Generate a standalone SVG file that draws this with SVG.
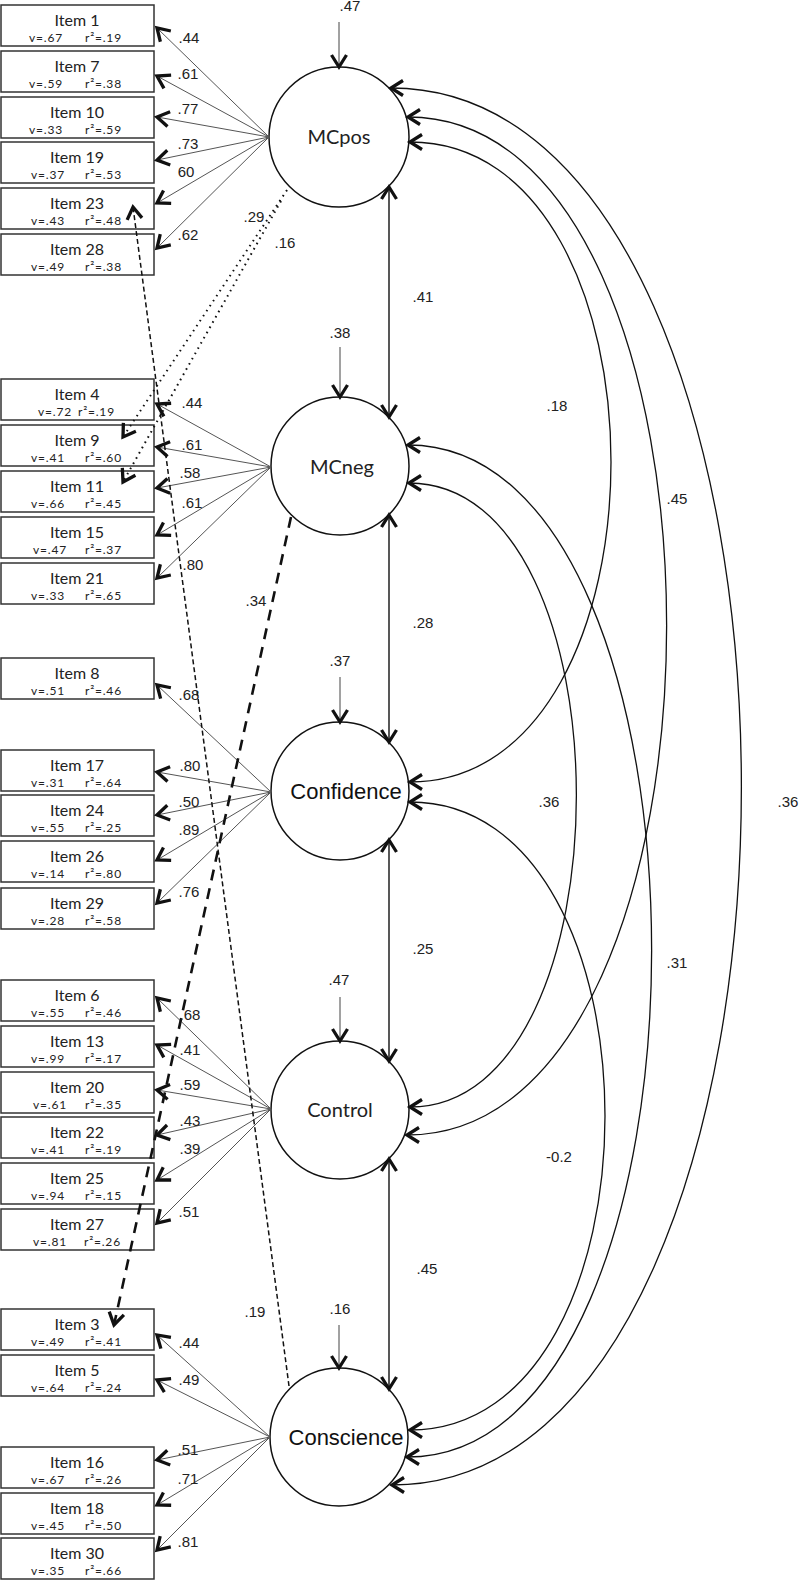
<svg xmlns="http://www.w3.org/2000/svg" width="800" height="1581" viewBox="0 0 800 1581">
<style>
.box rect{fill:#fff;stroke:#333;stroke-width:1.5}
.t1{font-family:Lato,"Liberation Sans",sans-serif;font-size:16px;text-anchor:middle;fill:#222}
.t2{font-family:Lato,"Liberation Sans",sans-serif;font-size:12px;letter-spacing:0.8px;fill:#222}
.lat circle{fill:#fff;stroke:#111;stroke-width:1.5}
.lc{font-family:Lato,"Liberation Sans",sans-serif;font-size:20px;text-anchor:middle;fill:#222}
.la{font-family:"Liberation Sans",Arial,sans-serif;font-size:22px;text-anchor:middle;fill:#111}
.num{font-family:"Liberation Sans",Arial,sans-serif;font-size:15px;text-anchor:middle;fill:#222}
.load{stroke:#555;stroke-width:1;fill:none;marker-end:url(#arr)}
.err{stroke:#444;stroke-width:1;fill:none;marker-end:url(#arr)}
.dbl{stroke:#111;stroke-width:1.4;fill:none;marker-start:url(#arr);marker-end:url(#arr)}
.cov{stroke:#111;stroke-width:1.3;fill:none;marker-start:url(#arr);marker-end:url(#arr)}
.dot{stroke:#111;stroke-width:2;fill:none;stroke-dasharray:1.6 4.4;marker-end:url(#arr)}
.dsh{stroke:#111;stroke-width:1.5;fill:none;stroke-dasharray:5 3;marker-end:url(#arr)}
.bds{stroke:#111;stroke-width:2.6;fill:none;stroke-dasharray:11 8;marker-end:url(#arr)}
</style>
<defs>
<marker id="arr" markerUnits="userSpaceOnUse" viewBox="0 0 20 20" markerWidth="20" markerHeight="20" refX="16" refY="10" orient="auto-start-reverse">
<path d="M4,2.5 L16,10 L4,17.5" fill="none" stroke="#111" stroke-width="3.3" stroke-dasharray="none"/>
</marker>
</defs>

<!-- Items group 1 -->
<g id="item1" class="box"><rect x="1" y="5" width="153" height="41"/><text class="t1" x="77" y="26">Item 1</text><text class="t2" x="29" y="42">v=.67</text><text class="t2" x="85" y="42">r²=.19</text></g>
<g id="item7" class="box"><rect x="1" y="51" width="153" height="41"/><text class="t1" x="77" y="72">Item 7</text><text class="t2" x="29" y="88">v=.59</text><text class="t2" x="85" y="88">r²=.38</text></g>
<g id="item10" class="box"><rect x="1" y="97" width="153" height="41"/><text class="t1" x="77" y="118">Item 10</text><text class="t2" x="29" y="134">v=.33</text><text class="t2" x="85" y="134">r²=.59</text></g>
<g id="item19" class="box"><rect x="1" y="142" width="153" height="41"/><text class="t1" x="77" y="163">Item 19</text><text class="t2" x="31" y="179">v=.37</text><text class="t2" x="85" y="179">r²=.53</text></g>
<g id="item23" class="box"><rect x="1" y="188" width="153" height="41"/><text class="t1" x="77" y="209">Item 23</text><text class="t2" x="31" y="225">v=.43</text><text class="t2" x="85" y="225">r²=.48</text></g>
<g id="item28" class="box"><rect x="1" y="234" width="153" height="41"/><text class="t1" x="77" y="255">Item 28</text><text class="t2" x="31" y="271">v=.49</text><text class="t2" x="85" y="271">r²=.38</text></g>

<!-- Items group 2 -->
<g id="item4" class="box"><rect x="1" y="379" width="153" height="41"/><text class="t1" x="77" y="400">Item 4</text><text class="t2" x="38" y="416">v=.72</text><text class="t2" x="78" y="416">r²=.19</text></g>
<g id="item9" class="box"><rect x="1" y="425" width="153" height="41"/><text class="t1" x="77" y="446">Item 9</text><text class="t2" x="31" y="462">v=.41</text><text class="t2" x="85" y="462">r²=.60</text></g>
<g id="item11" class="box"><rect x="1" y="471" width="153" height="41"/><text class="t1" x="77" y="492">Item 11</text><text class="t2" x="31" y="508">v=.66</text><text class="t2" x="85" y="508">r²=.45</text></g>
<g id="item15" class="box"><rect x="1" y="517" width="153" height="41"/><text class="t1" x="77" y="538">Item 15</text><text class="t2" x="33" y="554">v=.47</text><text class="t2" x="85" y="554">r²=.37</text></g>
<g id="item21" class="box"><rect x="1" y="563" width="153" height="41"/><text class="t1" x="77" y="584">Item 21</text><text class="t2" x="31" y="600">v=.33</text><text class="t2" x="85" y="600">r²=.65</text></g>

<!-- Items group 3 -->
<g id="item8" class="box"><rect x="1" y="658" width="153" height="41"/><text class="t1" x="77" y="679">Item 8</text><text class="t2" x="31" y="695">v=.51</text><text class="t2" x="85" y="695">r²=.46</text></g>
<g id="item17" class="box"><rect x="1" y="750" width="153" height="41"/><text class="t1" x="77" y="771">Item 17</text><text class="t2" x="31" y="787">v=.31</text><text class="t2" x="85" y="787">r²=.64</text></g>
<g id="item24" class="box"><rect x="1" y="795" width="153" height="41"/><text class="t1" x="77" y="816">Item 24</text><text class="t2" x="31" y="832">v=.55</text><text class="t2" x="85" y="832">r²=.25</text></g>
<g id="item26" class="box"><rect x="1" y="841" width="153" height="41"/><text class="t1" x="77" y="862">Item 26</text><text class="t2" x="31" y="878">v=.14</text><text class="t2" x="85" y="878">r²=.80</text></g>
<g id="item29" class="box"><rect x="1" y="888" width="153" height="41"/><text class="t1" x="77" y="909">Item 29</text><text class="t2" x="31" y="925">v=.28</text><text class="t2" x="85" y="925">r²=.58</text></g>

<!-- Items group 4 -->
<g id="item6" class="box"><rect x="1" y="980" width="153" height="41"/><text class="t1" x="77" y="1001">Item 6</text><text class="t2" x="31" y="1017">v=.55</text><text class="t2" x="85" y="1017">r²=.46</text></g>
<g id="item13" class="box"><rect x="1" y="1026" width="153" height="41"/><text class="t1" x="77" y="1047">Item 13</text><text class="t2" x="31" y="1063">v=.99</text><text class="t2" x="85" y="1063">r²=.17</text></g>
<g id="item20" class="box"><rect x="1" y="1072" width="153" height="41"/><text class="t1" x="77" y="1093">Item 20</text><text class="t2" x="33" y="1109">v=.61</text><text class="t2" x="85" y="1109">r²=.35</text></g>
<g id="item22" class="box"><rect x="1" y="1117" width="153" height="41"/><text class="t1" x="77" y="1138">Item 22</text><text class="t2" x="31" y="1154">v=.41</text><text class="t2" x="85" y="1154">r²=.19</text></g>
<g id="item25" class="box"><rect x="1" y="1163" width="153" height="41"/><text class="t1" x="77" y="1184">Item 25</text><text class="t2" x="31" y="1200">v=.94</text><text class="t2" x="85" y="1200">r²=.15</text></g>
<g id="item27" class="box"><rect x="1" y="1209" width="153" height="41"/><text class="t1" x="77" y="1230">Item 27</text><text class="t2" x="33" y="1246">v=.81</text><text class="t2" x="84" y="1246">r²=.26</text></g>

<!-- Items group 5 -->
<g id="item3" class="box"><rect x="1" y="1309" width="153" height="41"/><text class="t1" x="77" y="1330">Item 3</text><text class="t2" x="31" y="1346">v=.49</text><text class="t2" x="85" y="1346">r²=.41</text></g>
<g id="item5" class="box"><rect x="1" y="1355" width="153" height="41"/><text class="t1" x="77" y="1376">Item 5</text><text class="t2" x="31" y="1392">v=.64</text><text class="t2" x="85" y="1392">r²=.24</text></g>
<g id="item16" class="box"><rect x="1" y="1447" width="153" height="41"/><text class="t1" x="77" y="1468">Item 16</text><text class="t2" x="31" y="1484">v=.67</text><text class="t2" x="85" y="1484">r²=.26</text></g>
<g id="item18" class="box"><rect x="1" y="1493" width="153" height="41"/><text class="t1" x="77" y="1514">Item 18</text><text class="t2" x="31" y="1530">v=.45</text><text class="t2" x="85" y="1530">r²=.50</text></g>
<g id="item30" class="box"><rect x="1" y="1538" width="153" height="41"/><text class="t1" x="77" y="1559">Item 30</text><text class="t2" x="31" y="1575">v=.35</text><text class="t2" x="85" y="1575">r²=.66</text></g>

<!-- Latent variables -->
<g id="MCpos" class="lat"><circle cx="339" cy="137" r="70"/><text class="lc" x="339" y="144">MCpos</text></g>
<g id="MCneg" class="lat"><circle cx="340" cy="466" r="69"/><text class="lc" x="342" y="474">MCneg</text></g>
<g id="Confidence" class="lat"><circle cx="340" cy="791" r="69"/><text class="la" x="346" y="799">Confidence</text></g>
<g id="Control" class="lat"><circle cx="340" cy="1110" r="69"/><text class="lc" x="340" y="1117">Control</text></g>
<g id="Conscience" class="lat"><circle cx="339" cy="1437" r="69"/><text class="la" x="346" y="1445">Conscience</text></g>

<g id="connectors">
<!-- loadings MCpos -->
<line class="load" x1="269" y1="137" x2="157" y2="28"/>
<line class="load" x1="269" y1="137" x2="157" y2="76"/>
<line class="load" x1="269" y1="137" x2="157" y2="117"/>
<line class="load" x1="269" y1="137" x2="157" y2="160"/>
<line class="load" x1="269" y1="137" x2="157" y2="203"/>
<line class="load" x1="269" y1="137" x2="157" y2="248"/>
<!-- loadings MCneg -->
<line class="load" x1="271" y1="467" x2="157" y2="404"/>
<line class="load" x1="271" y1="467" x2="157" y2="447"/>
<line class="load" x1="271" y1="467" x2="157" y2="488"/>
<line class="load" x1="271" y1="467" x2="157" y2="535"/>
<line class="load" x1="271" y1="467" x2="157" y2="578"/>
<!-- loadings Confidence -->
<line class="load" x1="271" y1="792" x2="157" y2="685"/>
<line class="load" x1="271" y1="792" x2="157" y2="772"/>
<line class="load" x1="271" y1="792" x2="157" y2="815"/>
<line class="load" x1="271" y1="792" x2="157" y2="860"/>
<line class="load" x1="271" y1="792" x2="157" y2="903"/>
<!-- loadings Control -->
<line class="load" x1="271" y1="1109" x2="157" y2="998"/>
<line class="load" x1="271" y1="1109" x2="157" y2="1045"/>
<line class="load" x1="271" y1="1109" x2="157" y2="1090"/>
<line class="load" x1="271" y1="1109" x2="157" y2="1135"/>
<line class="load" x1="271" y1="1109" x2="157" y2="1180"/>
<line class="load" x1="271" y1="1109" x2="157" y2="1223"/>
<!-- loadings Conscience -->
<line class="load" x1="270" y1="1437" x2="157" y2="1335"/>
<line class="load" x1="270" y1="1437" x2="157" y2="1380"/>
<line class="load" x1="270" y1="1437" x2="157" y2="1460"/>
<line class="load" x1="270" y1="1437" x2="157" y2="1505"/>
<line class="load" x1="270" y1="1437" x2="157" y2="1550"/>

<!-- error terms -->
<line class="err" x1="339" y1="22" x2="339" y2="67"/>
<line class="err" x1="340" y1="347" x2="340" y2="397"/>
<line class="err" x1="340" y1="677" x2="340" y2="722"/>
<line class="err" x1="340" y1="997" x2="340" y2="1041"/>
<line class="err" x1="339" y1="1325" x2="339" y2="1368"/>

<!-- vertical correlations -->
<line class="dbl" x1="389" y1="187" x2="389" y2="417"/>
<line class="dbl" x1="389" y1="515" x2="389" y2="742"/>
<line class="dbl" x1="389" y1="840" x2="389" y2="1061"/>
<line class="dbl" x1="389" y1="1159" x2="389" y2="1389"/>

<!-- curved covariances -->
<path class="cov" d="M391,88 C858,88 858,1485 392,1485"/>
<path class="cov" d="M408,117 C753,117 753,1135 407,1135"/>
<path class="cov" d="M410,142 C678,142 678,782 410,782"/>
<path class="cov" d="M408,445 C733,445 733,1457 407,1457"/>
<path class="cov" d="M409,483 C632,483 632,1107 410,1107"/>
<path class="cov" d="M410,802 C670,802 670,1430 410,1430"/>

<!-- cross loadings -->
<line class="dot" x1="287" y1="190" x2="123" y2="437"/>
<line class="dot" x1="281" y1="201" x2="123" y2="482"/>
<line class="dsh" x1="289" y1="1386" x2="133" y2="207"/>
<line class="bds" x1="291" y1="517" x2="114" y2="1325"/>
</g>

<g id="labels">
<text class="num" x="189" y="43">.44</text>
<text class="num" x="188" y="79">.61</text>
<text class="num" x="188" y="114">.77</text>
<text class="num" x="188" y="149">.73</text>
<text class="num" x="186" y="177">60</text>
<text class="num" x="188" y="240">.62</text>
<text class="num" x="192" y="408">.44</text>
<text class="num" x="192" y="450">.61</text>
<text class="num" x="190" y="478">.58</text>
<text class="num" x="192" y="508">.61</text>
<text class="num" x="193" y="570">.80</text>
<text class="num" x="189" y="700">.68</text>
<text class="num" x="190" y="771">.80</text>
<text class="num" x="189" y="807">.50</text>
<text class="num" x="189" y="835">.89</text>
<text class="num" x="189" y="897">.76</text>
<text class="num" x="190" y="1020">.68</text>
<text class="num" x="190" y="1055">.41</text>
<text class="num" x="190" y="1090">.59</text>
<text class="num" x="190" y="1126">.43</text>
<text class="num" x="190" y="1154">.39</text>
<text class="num" x="189" y="1217">.51</text>
<text class="num" x="189" y="1348">.44</text>
<text class="num" x="189" y="1385">.49</text>
<text class="num" x="188" y="1455">.51</text>
<text class="num" x="188" y="1484">.71</text>
<text class="num" x="188" y="1547">.81</text>
<text class="num" x="350" y="11">.47</text>
<text class="num" x="340" y="338">.38</text>
<text class="num" x="340" y="666">.37</text>
<text class="num" x="339" y="985">.47</text>
<text class="num" x="340" y="1314">.16</text>
<text class="num" x="423" y="302">.41</text>
<text class="num" x="423" y="628">.28</text>
<text class="num" x="423" y="954">.25</text>
<text class="num" x="427" y="1274">.45</text>
<text class="num" x="557" y="411">.18</text>
<text class="num" x="677" y="504">.45</text>
<text class="num" x="549" y="807">.36</text>
<text class="num" x="677" y="968">.31</text>
<text class="num" x="559" y="1162">-0.2</text>
<text class="num" x="788" y="807">.36</text>
<text class="num" x="254" y="222">.29</text>
<text class="num" x="285" y="248">.16</text>
<text class="num" x="256" y="606">.34</text>
<text class="num" x="255" y="1317">.19</text>
</g>
</svg>
